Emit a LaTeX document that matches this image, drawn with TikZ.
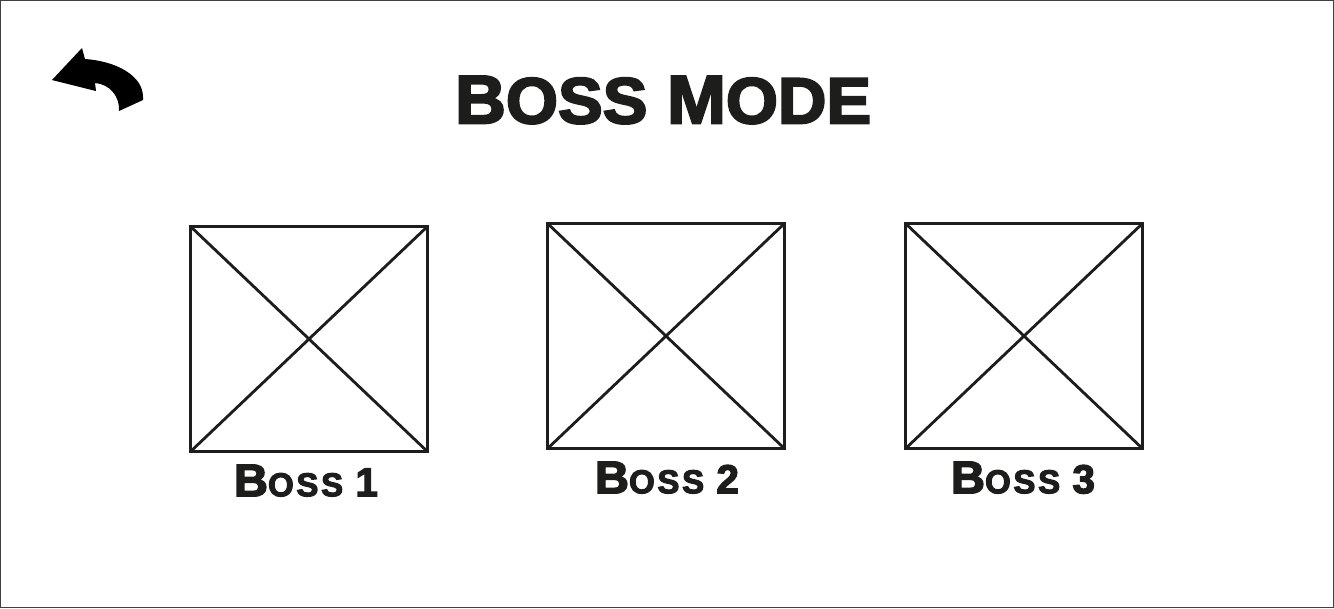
\documentclass[tikz,border=0pt]{standalone}
\usepackage{fontspec}
\setmainfont{Liberation Sans}
\newfontfamily\bossfont[FakeBold=3.2,FakeStretch=1.03]{Liberation Sans Bold}
\newfontfamily\smallbossfont[FakeBold=3.2,FakeStretch=1.0,LetterSpace=8]{Liberation Sans Bold}
\usetikzlibrary{positioning}
\definecolor{ink}{HTML}{1D1D1B}
\tikzset{
  bossbox/.style={draw=ink,line width=0.85pt,minimum width=2.37cm,minimum height=2.25cm,inner sep=0pt},
  bosslabel/.style={text=ink,inner sep=0pt,font=\smallbossfont\fontsize{9.4}{10}\selectfont},
  bosstitle/.style={text=ink,inner sep=0pt,font=\bossfont\fontsize{19.5}{20}\selectfont},
  bosscross/.style={draw=ink,line width=0.8pt,shorten >=0.45pt,shorten <=0.45pt},
}
\begin{document}
\begin{tikzpicture}[x=0.01cm,y=-0.01cm]
    \useasboundingbox (0,0) rectangle (1334,608);
    \draw[line width=0.25pt,draw=black!75] (0.5,0.5) rectangle (1333.5,607.5);
    % back arrow
    \fill[black] (52,80) -- (82,48) -- (85,59)
        .. controls (115,61) and (143,75) .. (143,97) -- (143,100) -- (119,111)
        .. controls (120,97) and (110,84) .. (95,83) -- (96,91) -- cycle;
    \node[bosstitle] (title) at (663,100) {B{\fontsize{18.5}{20}\selectfont OSS} M{\fontsize{18.5}{20}\selectfont ODE}};
    % the three boss slots
    \foreach \n/\x/\y/\s in {1/309/339/-0.03,2/666/336/0.01,3/1024/336/-0.01}{
        \node[bossbox] (box\n) at (\x,\y) {};
        \draw[bosscross] (box\n.north west) -- (box\n.south east);
        \draw[bosscross] (box\n.north east) -- (box\n.south west);
        \node[bosslabel,below=0.11cm of box\n,xshift=\s cm] (label\n) {{\bossfont\fontsize{13}{14}\selectfont B}OSS\hspace{3.5pt}{\fontsize{11.5}{14}\selectfont\n}};
    }
\end{tikzpicture}
\end{document}
